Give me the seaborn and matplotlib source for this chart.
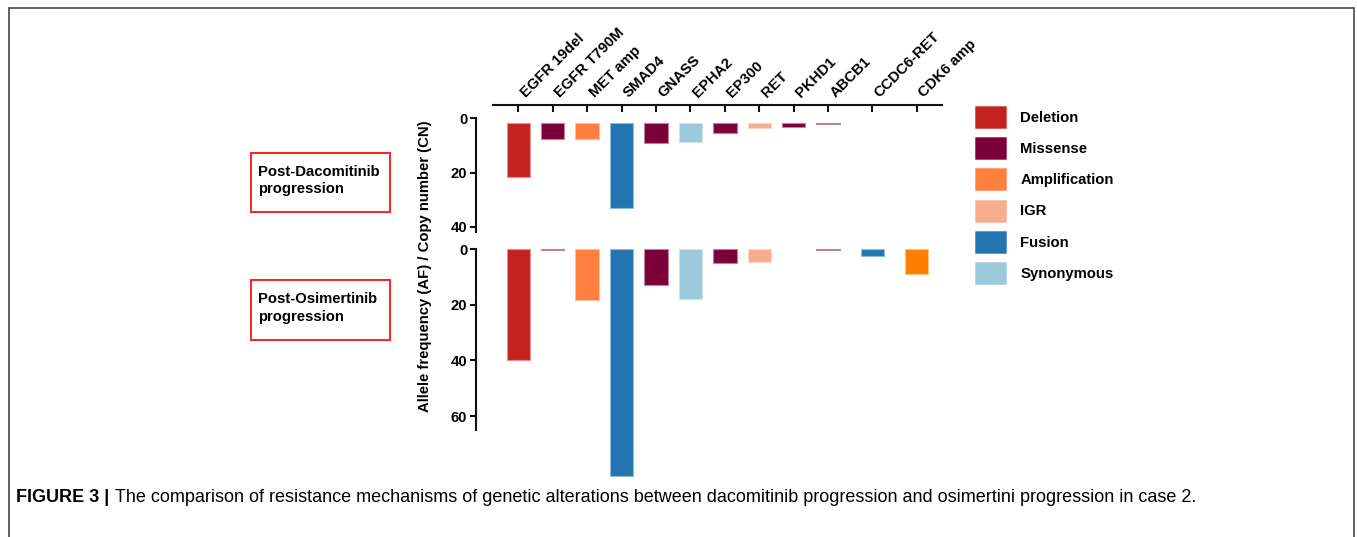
import numpy as np
import pandas as pd
import matplotlib
matplotlib.use("Agg")
import matplotlib.pyplot as plt
from matplotlib.patches import Patch, Rectangle
from matplotlib.lines import Line2D
from matplotlib.colors import to_rgba
from matplotlib.transforms import ScaledTranslation
import seaborn as sns

# data
genes = ["EGFR 19del", "EGFR T790M", "MET amp", "SMAD4", "GNASS", "EPHA2",
         "EP300", "RET", "PKHD1", "ABCB1", "CCDC6-RET", "CDK6 amp"]
kinds = ["Deletion", "Missense", "Amplification", "Fusion", "Missense", "Synonymous",
         "Missense", "IGR", "Missense", "Missense", "Fusion", "Amp (CDK6)"]
post_dacomitinib = [21.5, 7.8, 7.8, 33.2, 9.2, 8.7, 5.4, 3.7, 3.2, 2.2, np.nan, np.nan]
post_osimertinib = [40.0, 0.4, 18.4, 81.6, 13.0, 17.8, 4.8, 4.6, np.nan, 0.4, 2.5, 8.8]
legend_kinds = ["Deletion", "Missense", "Amplification", "IGR", "Fusion", "Synonymous"]
kind_colors = {
    "Deletion": "#c4221f",
    "Missense": "#7b003a",
    "Amplification": "#ff7f3f",
    "IGR": "#f9ac8e",
    "Fusion": "#2276b0",
    "Synonymous": "#9ac9db",
    "Amp (CDK6)": "#ff7f00",
}
panel_titles = ["Post-Dacomitinib\nprogression", "Post-Osimertinib\nprogression"]
ylabel = "Allele frequency (AF) / Copy number (CN)"
caption_bold = "FIGURE 3 |"
caption = ("The comparison of resistance mechanisms of genetic alterations between "
           "dacomitinib progression and osimertini progression in case 2.")

W, H = 1357, 537
FS = 10.7  # bold label size
sns.set_theme(style="white")
plt.rcParams["font.family"] = ["Liberation Sans", "DejaVu Sans"]
plt.rcParams["text.color"] = "black"
plt.rcParams["xtick.color"] = "black"
plt.rcParams["ytick.color"] = "black"

# x positions: last two columns sit a little further apart
positions = [i if i <= 9 else 9 + 1.285 * (i - 9) for i in range(len(genes))]
gene_colors = {g: kind_colors[k] for g, k in zip(genes, kinds)}


def fx(x):
    return x / W


def fy(y):
    return 1 - y / H


fig = plt.figure(figsize=(W / 100, H / 100), dpi=100)
ax_top = fig.add_axes([fx(493), fy(231.7), fx(942 - 493), (231.7 - 118.3) / H])
ax_bot = fig.add_axes([fx(493), fy(480), fx(942 - 493), (480 - 249.3) / H])


def draw_panel(ax, values, base=0.0):
    df = pd.DataFrame({"pos": positions, "value": values, "gene": genes}).dropna()
    sns.barplot(data=df, x="pos", y="value", hue="gene", palette=gene_colors,
                dodge=False, native_scale=True, width=0.68, errorbar=None,
                saturation=1, legend=False, ax=ax)
    for p in ax.patches:
        fc = np.array(to_rgba(p.get_facecolor()))
        edge = 0.5 * fc + 0.5 * np.array([1, 1, 1, 1])
        p.set_edgecolor(edge)
        p.set_linewidth(0.8)
        if base:
            p.set_y(base)
            p.set_height(p.get_height() - base)
    ax.set_xlim(-0.735, 12.31)
    ax.set_xlabel("")
    ax.set_ylabel("")
    for s in ["right", "bottom", "top"]:
        ax.spines[s].set_visible(False)
    ax.spines["left"].set_position(("outward", 12.5))
    ax.spines["left"].set_linewidth(1.5)
    ax.spines["left"].set_color("#111111")
    ax.tick_params(axis="y", direction="out", length=4, width=1.5, color="#111111",
                   labelsize=FS, pad=2, left=True)
    ax.set_facecolor("none")


# top panel (bars start slightly below the 0 line in the original)
draw_panel(ax_top, post_dacomitinib, base=1.8)
ax_top.set_ylim(41.8, 0)
ax_top.set_yticks([0, 20, 40])
ax_top.set_yticklabels(["0", "20", "40"], fontweight="bold")
ax_top.spines["top"].set_visible(True)
ax_top.spines["top"].set_position(("outward", 9.6))
ax_top.spines["top"].set_linewidth(1.5)
ax_top.spines["top"].set_color("#111111")
ax_top.xaxis.tick_top()
ax_top.set_xticks(positions)
ax_top.set_xticklabels(genes, fontsize=FS, fontweight="bold")
ax_top.tick_params(axis="x", direction="in", length=4.8, width=1.5, color="#111111",
                   pad=5.0, top=True, bottom=False)
shift = ScaledTranslation(0.075, 0, fig.dpi_scale_trans)
for lab in ax_top.get_xticklabels():
    lab.set_rotation(45)
    lab.set_ha("left")
    lab.set_va("baseline")
    lab.set_rotation_mode("anchor")
    lab.set_transform(lab.get_transform() + shift)

# bottom panel
draw_panel(ax_bot, post_osimertinib)
ax_bot.set_ylim(83, 0)
ax_bot.set_yticks([0, 20, 40, 60])
ax_bot.set_yticklabels(["0", "20", "40", "60"], fontweight="bold")
ax_bot.spines["left"].set_bounds(0, 65)
ax_bot.set_xticks([])
for p in ax_bot.patches:
    p.set_clip_on(False)

fig.text(fx(425), fy(266), ylabel, rotation=90, ha="center", va="center",
         fontsize=10.7, fontweight="bold")

# red boxed panel labels
for (y0, y1), title in zip([(153, 212), (280, 340)], panel_titles):
    fig.add_artist(Rectangle((fx(251), fy(y1)), fx(390 - 251), (y1 - y0) / H,
                             transform=fig.transFigure, fill=False,
                             edgecolor="#ff1f1f", linewidth=1.4))
    fig.text(fx(258), fy((y0 + y1) / 2 - 2), title, ha="left", va="center",
             fontsize=FS, fontweight="bold", linespacing=1.35)

# legend
handles = [Patch(facecolor=kind_colors[k], edgecolor=to_rgba(kind_colors[k], 0.4),
                 linewidth=0.8, label=k) for k in legend_kinds]
fig.legend(handles=handles, loc="upper left", bbox_to_anchor=(fx(975), fy(106)),
           frameon=False, borderpad=0, borderaxespad=0, handlelength=2.1,
           handleheight=1.9, labelspacing=0.62, handletextpad=0.95,
           prop={"weight": "bold", "size": FS})

# figure frame (open at the bottom)
frame_kw = dict(color="#555555", linewidth=1.3, transform=fig.transFigure)
fig.add_artist(Line2D([fx(9), fx(9)], [fy(8), -0.05], **frame_kw))
fig.add_artist(Line2D([fx(9), fx(1354)], [fy(8), fy(8)], **frame_kw))
fig.add_artist(Line2D([fx(1354), fx(1354)], [fy(8), -0.05], **frame_kw))

# caption
t1 = fig.text(fx(16), fy(497), caption_bold, ha="left", va="center",
              fontsize=13.0, fontweight="bold")
fig.canvas.draw()
bb = t1.get_window_extent()
fig.text((bb.x1 + 6) / W, fy(497), caption, ha="left", va="center", fontsize=13.0)

fig.savefig("out.png", dpi=100)
